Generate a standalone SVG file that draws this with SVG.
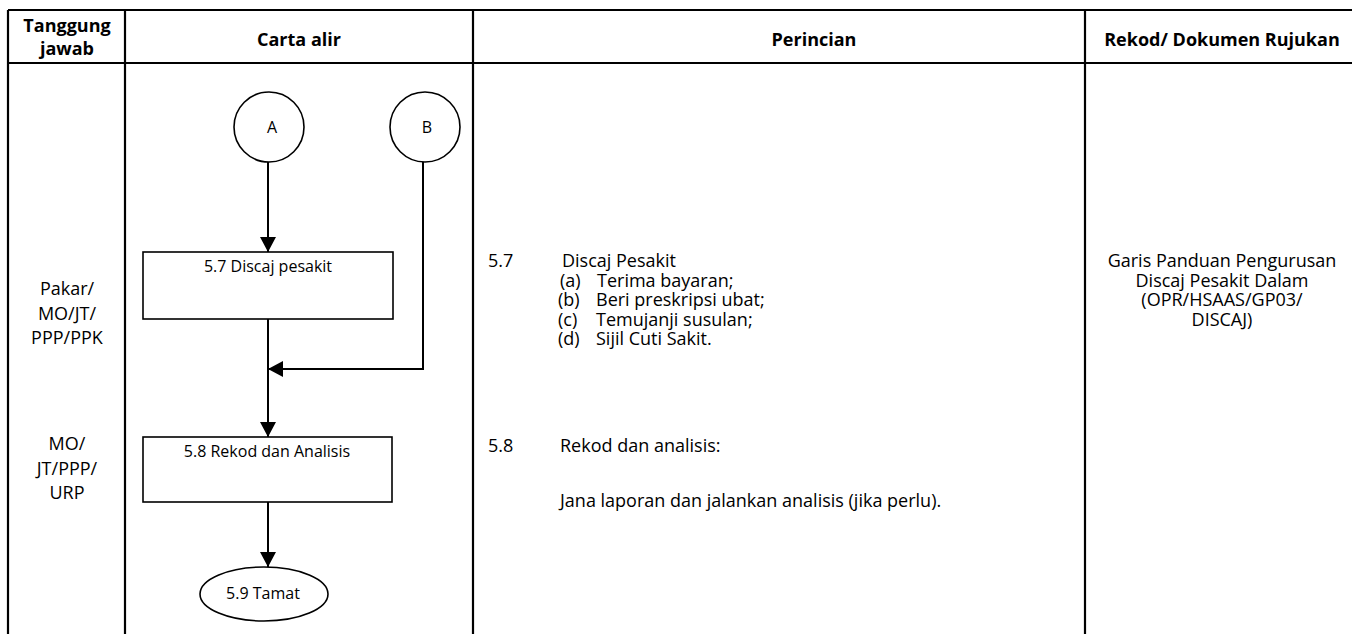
<svg xmlns="http://www.w3.org/2000/svg" width="1352" height="634" viewBox="0 0 1352 634">
<style>
.tbl{stroke:#000;stroke-width:2.2;fill:none}
.shape{stroke:#000;stroke-width:1.6;fill:#fff}
.conn{stroke:#000;stroke-width:2;fill:none}
text{font-family:"Open Sans","Liberation Sans",sans-serif;fill:#000}
.h{font-size:18px;font-weight:bold;text-anchor:middle}
.t{font-size:18px}
.c{font-size:18px;text-anchor:middle}
.f{font-size:16px;text-anchor:middle}
</style>
<defs>
<marker id="arr" markerUnits="userSpaceOnUse" markerWidth="16" markerHeight="16" refX="15" refY="8" orient="auto">
<path d="M0,0 L15,8 L0,16 Z" fill="#000"/>
</marker>
</defs>
<rect width="1352" height="634" fill="#fff"/>
<g id="table">
<path class="tbl" d="M8,10 H1352 M8,63 H1352 M8,10 V634 M125,10 V634 M473,10 V634 M1085,10 V634"/>
<text class="h" x="67" y="32">Tanggung</text>
<text class="h" x="67" y="55">jawab</text>
<text class="h" x="299" y="46">Carta alir</text>
<text class="h" x="814" y="46">Perincian</text>
<text class="h" x="1222" y="46">Rekod/ Dokumen Rujukan</text>
</g>
<g id="resp1">
<text class="c" x="67" y="295">Pakar/</text>
<text class="c" x="67" y="320">MO/JT/</text>
<text class="c" x="67" y="344">PPP/PPK</text>
</g>
<g id="resp2">
<text class="c" x="67" y="450">MO/</text>
<text class="c" x="67" y="475">JT/PPP/</text>
<text class="c" x="67" y="499">URP</text>
</g>
<g id="connectors">
<path class="conn" d="M268,162 V252" marker-end="url(#arr)"/>
<path class="conn" d="M268,319 V437" marker-end="url(#arr)"/>
<path class="conn" d="M423,162 V369 H268" marker-end="url(#arr)"/>
<path class="conn" d="M268,502 V567" marker-end="url(#arr)"/>
</g>
<g id="nodeA">
<circle class="shape" cx="269" cy="127" r="35"/>
<text class="f" x="272" y="133">A</text>
</g>
<g id="nodeB">
<circle class="shape" cx="425" cy="127" r="35"/>
<text class="f" x="427" y="133">B</text>
</g>
<g id="node57">
<rect class="shape" x="143" y="252" width="250" height="67"/>
<text class="f" x="268" y="272">5.7 Discaj pesakit</text>
</g>
<g id="node58">
<rect class="shape" x="143" y="437" width="249" height="65"/>
<text class="f" x="267" y="457">5.8 Rekod dan Analisis</text>
</g>
<g id="node59">
<ellipse class="shape" cx="264" cy="594" rx="64" ry="27"/>
<text class="f" x="263" y="599">5.9 Tamat</text>
</g>
<g id="detail">
<text class="t" x="488" y="267">5.7</text>
<text class="t" x="562" y="267">Discaj Pesakit</text>
<text class="t" x="560" y="286.5">(a)</text>
<text class="t" x="597" y="286.5">Terima bayaran;</text>
<text class="t" x="558" y="306">(b)</text>
<text class="t" x="596" y="306">Beri preskripsi ubat;</text>
<text class="t" x="558" y="325.5">(c)</text>
<text class="t" x="596" y="325.5">Temujanji susulan;</text>
<text class="t" x="558" y="345">(d)</text>
<text class="t" x="596" y="345">Sijil Cuti Sakit.</text>
<text class="t" x="488" y="452">5.8</text>
<text class="t" x="560" y="452">Rekod dan analisis:</text>
<text class="t" x="560" y="507">Jana laporan dan jalankan analisis (jika perlu).</text>
</g>
<g id="reference">
<text class="c" x="1222" y="267">Garis Panduan Pengurusan</text>
<text class="c" x="1222" y="286.5">Discaj Pesakit Dalam</text>
<text class="c" x="1222" y="306">(OPR/HSAAS/GP03/</text>
<text class="c" x="1222" y="325.5">DISCAJ)</text>
</g>
</svg>
